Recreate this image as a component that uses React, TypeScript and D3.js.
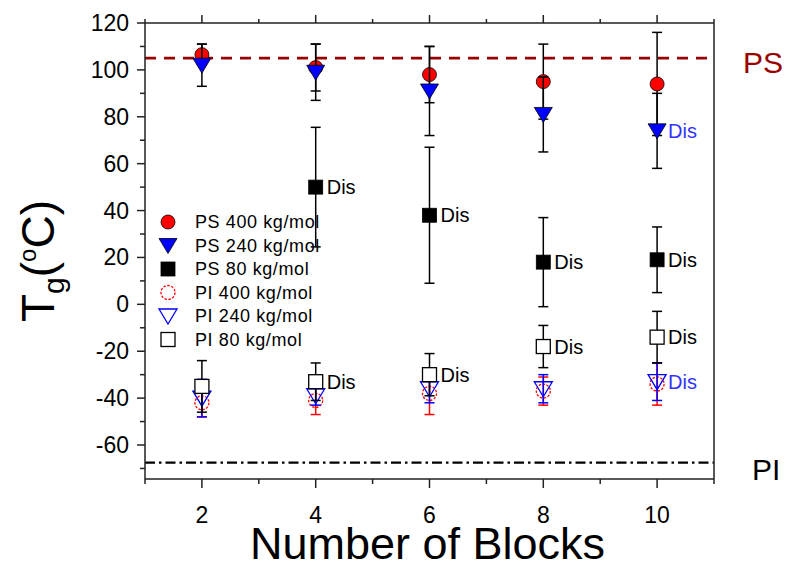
import React from "react";
import * as d3 from "d3";

const blocks = [2, 4, 6, 8, 10];
const ps400 = [106.5, 101, 98, 95, 94];
const ps400Err = [4.5, 10, 12, 16, 22];
const ps240 = [102, 99, 91, 81, 74];
const ps240Err = [9, 12, 19, 16, 16];
const ps80 = [NaN, 50, 38, 18, 19];
const ps80Err = [NaN, 25.5, 29, 19, 14];
const pi400 = [-42, -41, -38, -37, -34];
const pi400Err = [6, 6, 9, 6, 9];
const pi240 = [-40, -39, -36, -36, -33];
const pi240Err = [8, 4, 6, 6, 8];
const pi80 = [-35, -33, -30, -18, -14];
const pi80Err = [11, 8, 9, 9, 11];

const disPS240 = [false, false, false, false, true];
const disPS80 = [false, true, true, true, true];
const disPI240 = [false, false, false, false, true];
const disPI80 = [false, true, true, true, true];

const legendLabels = [
  "PS 400 kg/mol",
  "PS 240 kg/mol",
  "PS 80 kg/mol",
  "PI 400 kg/mol",
  "PI 240 kg/mol",
  "PI 80 kg/mol",
];

const psTg = 105;
const piTg = -67.5;

const yTicks = [-60, -40, -20, 0, 20, 40, 60, 80, 100, 120];
const yMinor = [-70, -50, -30, -10, 10, 30, 50, 70, 90, 110];
const xTicks = [2, 4, 6, 8, 10];
const xMinor = [1, 3, 5, 7, 9, 11];

type Shape = "circle" | "tri" | "square";

interface Series {
  values: number[];
  errs: number[];
  shape: Shape;
  color: string;
  filled: boolean;
  errColor: string;
  dis: boolean[] | null;
  disColor: string;
}

const series: Series[] = [
  { values: ps400, errs: ps400Err, shape: "circle", color: "#ff0000", filled: true, errColor: "#000", dis: null, disColor: "#000" },
  { values: ps240, errs: ps240Err, shape: "tri", color: "#0000ff", filled: true, errColor: "#000", dis: disPS240, disColor: "#3333ff" },
  { values: ps80, errs: ps80Err, shape: "square", color: "#000000", filled: true, errColor: "#000", dis: disPS80, disColor: "#000" },
  { values: pi400, errs: pi400Err, shape: "circle", color: "#ff0000", filled: false, errColor: "#ff0000", dis: null, disColor: "#000" },
  { values: pi240, errs: pi240Err, shape: "tri", color: "#0000ff", filled: false, errColor: "#0000ff", dis: disPI240, disColor: "#3333ff" },
  { values: pi80, errs: pi80Err, shape: "square", color: "#000000", filled: false, errColor: "#000", dis: disPI80, disColor: "#000" },
];

function Marker({ cx, cy, s }: { cx: number; cy: number; s: Series }) {
  const fill = s.filled ? s.color : "none";
  const stroke = s.filled ? "#000" : s.color;
  const sw = s.filled ? 0.8 : 1.3;
  if (s.shape === "circle") {
    return (
      <circle cx={cx} cy={cy} r={7} fill={fill} stroke={stroke} strokeWidth={sw}
        strokeDasharray={s.filled ? undefined : "2.5,1.5"} />
    );
  }
  if (s.shape === "tri") {
    const pts = `${cx - 9},${cy - 7} ${cx + 9},${cy - 7} ${cx},${cy + 8}`;
    return <polygon points={pts} fill={fill} stroke={stroke} strokeWidth={sw} />;
  }
  return <rect x={cx - 7} y={cy - 7} width={14} height={14} fill={s.filled ? fill : "#fff"} stroke={stroke} strokeWidth={sw} />;
}

export default function App() {
  const W = 792;
  const H = 569;
  const left = 145, right = 714, top = 23, bottom = 479;
  const x = d3.scaleLinear().domain([1, 11]).range([left, right]);
  const y = d3.scaleLinear().domain([-74.5, 120]).range([bottom, top]);
  const font = "Liberation Sans, Arial, sans-serif";

  return (
    <svg width={W} height={H} style={{ position: "absolute", left: 0, top: 0, background: "#fff" }} fontFamily={font}>
      <rect x={0} y={0} width={W} height={H} fill="#fff" />
      {/* reference lines */}
      <line x1={left} x2={right} y1={y(psTg)} y2={y(psTg)} stroke="#990000" strokeWidth={2.8} strokeDasharray="11,8" />
      <line x1={left} x2={right} y1={y(piTg)} y2={y(piTg)} stroke="#000" strokeWidth={2.4} strokeDasharray="10,4,2.5,4" />

      {/* axes frame */}
      <line x1={left} x2={right} y1={top} y2={top} stroke="#222" strokeWidth={1.5} />
      <line x1={left} x2={right} y1={bottom} y2={bottom} stroke="#222" strokeWidth={1.5} />
      <line x1={left} x2={left} y1={top} y2={bottom} stroke="#222" strokeWidth={1.5} />
      <line x1={right} x2={right} y1={top} y2={bottom} stroke="#222" strokeWidth={1.5} />

      {/* y ticks */}
      {yTicks.map((t) => (
        <g key={"yt" + t}>
          <line x1={left - 8} x2={left} y1={y(t)} y2={y(t)} stroke="#222" strokeWidth={1.5} />
          <text x={left - 16} y={y(t)} dy="0.35em" textAnchor="end" fontSize={23} fill="#000">{t}</text>
        </g>
      ))}
      {yMinor.map((t) => (
        <line key={"ym" + t} x1={left - 5} x2={left} y1={y(t)} y2={y(t)} stroke="#222" strokeWidth={1.5} />
      ))}
      {/* x ticks */}
      {xTicks.map((t) => (
        <g key={"xt" + t}>
          <line x1={x(t)} x2={x(t)} y1={bottom} y2={bottom + 9} stroke="#222" strokeWidth={1.5} />
          <line x1={x(t)} x2={x(t)} y1={top} y2={top - 8} stroke="#222" strokeWidth={1.5} />
          <text x={x(t)} y={bottom + 44} textAnchor="middle" fontSize={23} fill="#000">{t}</text>
        </g>
      ))}
      {xMinor.map((t) => (
        <g key={"xm" + t}>
          <line x1={x(t)} x2={x(t)} y1={bottom} y2={bottom + 5} stroke="#222" strokeWidth={1.5} />
          <line x1={x(t)} x2={x(t)} y1={top} y2={top - 4} stroke="#222" strokeWidth={1.5} />
        </g>
      ))}

      {/* data */}
      {series.map((s, si) => (
        <g key={"s" + si}>
          {blocks.map((b, i) => {
            const v = s.values[i];
            if (!isFinite(v)) return null;
            const cx = x(b);
            const cy = y(v);
            const e = s.errs[i];
            const yt = y(v + e);
            const yb = y(v - e);
            return (
              <g key={i}>
                <line x1={cx} x2={cx} y1={yt} y2={yb} stroke={s.errColor} strokeWidth={1.5} />
                <line x1={cx - 5} x2={cx + 5} y1={yt} y2={yt} stroke={s.errColor} strokeWidth={1.5} />
                <line x1={cx - 5} x2={cx + 5} y1={yb} y2={yb} stroke={s.errColor} strokeWidth={1.5} />
                <Marker cx={cx} cy={cy} s={s} />
                {s.dis && s.dis[i] ? (
                  <text x={cx + 11} y={cy} dy="0.35em" fontSize={20} fill={s.disColor}>Dis</text>
                ) : null}
              </g>
            );
          })}
        </g>
      ))}

      {/* legend */}
      {series.map((s, i) => {
        const ly = 222 + i * 23.5;
        return (
          <g key={"lg" + i}>
            <Marker cx={168} cy={ly} s={s} />
            <text x={195} y={ly} dy="0.35em" fontSize={18} fill="#000" letterSpacing={0.6}>{legendLabels[i]}</text>
          </g>
        );
      })}

      {/* right labels */}
      <text x={743} y={73} fontSize={30} fill="#990000">PS</text>
      <text x={752} y={480} fontSize={30} fill="#000">PI</text>

      {/* axis titles */}
      <text x={(left + right) / 2 - 2} y={559} textAnchor="middle" fontSize={45} fill="#000">Number of Blocks</text>
      <text transform="translate(54,322) rotate(-90)" fontSize={46} fill="#000">
        T<tspan fontSize={30} dy={10}>g</tspan><tspan dy={-10}>(</tspan><tspan fontSize={24} dy={-18}>o</tspan><tspan dy={18}>C)</tspan>
      </text>
    </svg>
  );
}
